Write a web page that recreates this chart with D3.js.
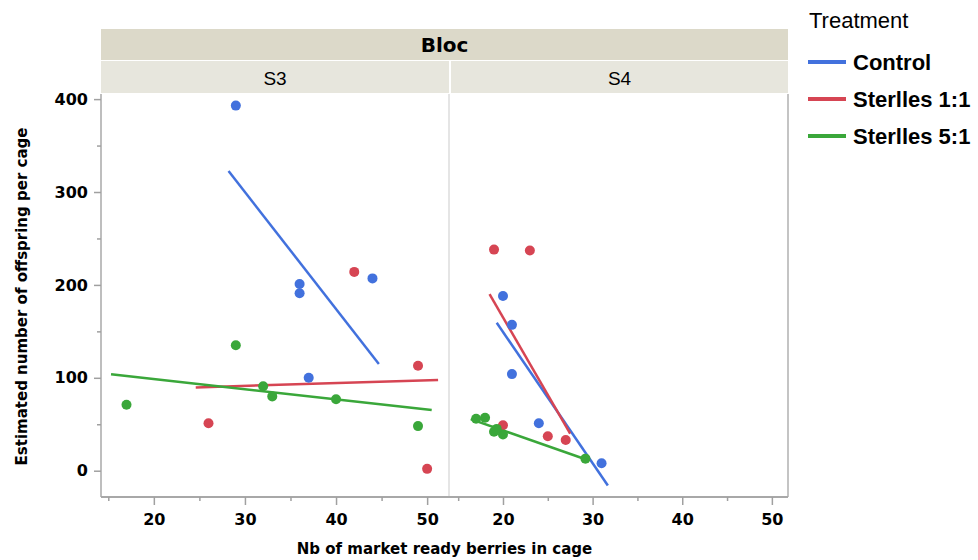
<!DOCTYPE html>
<html>
<head>
<meta charset="utf-8">
<script src="https://cdnjs.cloudflare.com/ajax/libs/d3/7.8.5/d3.min.js"></script>
<style>
  body { margin: 0; background: #fff; }
  svg { display: block; }
  .tick-label { font-family: "DejaVu Sans", sans-serif; font-weight: bold; font-size: 16px; fill: #000; }
  .axis-title { font-family: "DejaVu Sans", sans-serif; font-weight: bold; font-size: 15px; fill: #000; }
</style>
</head>
<body>
<div id="main"></div>
<script>
// Sizes
var svgWidth = 978;
var svgHeight = 560;

// Facets and groups
var panels = ['S3', 'S4'];
var treatments = ['Control', 'Sterlles 1:1', 'Sterlles 5:1'];
var treatmentColors = ['#4271dd', '#d64553', '#3aa73a'];

// Axis ticks
var xTicks = [20, 30, 40, 50];
var xMinorTicks = [15, 25, 35, 45];
var yTicks = [0, 100, 200, 300, 400];
var yMinorTicks = [50, 150, 250, 350];

// Points: bloc, treatment index, berries, offspring
var pointBloc = ['S3','S3','S3','S3','S3', 'S3','S3','S3','S3', 'S3','S3','S3','S3','S3','S3',
                 'S4','S4','S4','S4','S4', 'S4','S4','S4','S4','S4', 'S4','S4','S4','S4','S4','S4'];
var pointTreatment = [0,0,0,0,0, 1,1,1,1, 2,2,2,2,2,2,
                      0,0,0,0,0, 1,1,1,1,1, 2,2,2,2,2,2];
var pointBerries = [29, 36, 36, 37, 44,   42, 49, 26, 50,   17, 29, 32, 33, 40, 49,
                    20, 21, 21, 24, 31,   19, 23, 20, 25, 27,   17, 18, 19, 20, 19.3, 29.2];
var pointOffspring = [393, 201, 191, 100, 207,   214, 113, 51, 2,   71, 135, 91, 80, 77, 48,
                      188, 157, 104, 51, 8,   238, 237, 49, 37, 33,   56, 57, 42, 39, 45, 13];

// Fitted lines: bloc, treatment, start and end
var fitBloc = ['S3', 'S3', 'S3', 'S4', 'S4', 'S4'];
var fitTreatment = [0, 1, 2, 0, 1, 2];
var fitX1 = [28.2, 24.6, 15.3, 19.3, 18.5, 16.4];
var fitY1 = [322.6, 89.7, 103.8, 159.3, 190, 55.6];
var fitX2 = [44.7, 51.2, 50.5, 31.7, 27.5, 29.2];
var fitY2 = [114.9, 97.6, 65.3, -16, 40, 12.3];

// Layout
var panelLeft = [101, 451];
var panelRight = [449, 788];
var plotTop = 94;
var plotBottom = 497;
var stripTop = 29;
var stripMid = 60;

var xDomains = [[14.2, 52.4], [14.2, 51.8]];
var yScale = d3.scaleLinear().domain([-28.3, 405.5]).range([plotBottom, plotTop]);

var xScales = panels.map(function(p, i) {
    return d3.scaleLinear().domain(xDomains[i]).range([panelLeft[i], panelRight[i]]);
});

var svg = d3.select('#main')
    .append('svg')
    .attr('width', svgWidth)
    .attr('height', svgHeight);

// Header strips
svg.append('rect')
    .attr('x', panelLeft[0]).attr('y', stripTop)
    .attr('width', panelRight[1] - panelLeft[0]).attr('height', stripMid - stripTop)
    .attr('fill', '#dcd9c9');
svg.append('text')
    .attr('x', (panelLeft[0] + panelRight[1]) / 2).attr('y', stripMid - 8)
    .attr('text-anchor', 'middle')
    .style('font-family', '"DejaVu Sans", sans-serif')
    .style('font-weight', 'bold')
    .style('font-size', '20px')
    .text('Bloc');

panels.forEach(function(p, i) {
    svg.append('rect')
        .attr('x', panelLeft[i]).attr('y', stripMid + 1)
        .attr('width', panelRight[i] - panelLeft[i]).attr('height', plotTop - stripMid - 2)
        .attr('fill', '#e7e6dd');
    svg.append('text')
        .attr('x', (panelLeft[i] + panelRight[i]) / 2).attr('y', stripMid + 25)
        .attr('text-anchor', 'middle')
        .style('font-family', '"Liberation Sans", sans-serif')
        .style('font-size', '19px')
        .text(p);
});

// Panel frames
panels.forEach(function(p, i) {
    svg.append('line')
        .attr('x1', panelRight[i]).attr('x2', panelRight[i])
        .attr('y1', plotTop).attr('y2', plotBottom)
        .attr('stroke', i == 0 ? '#dcdcdc' : '#b0b0b0').attr('stroke-width', 1.5);
});
svg.append('line')
    .attr('x1', panelLeft[0]).attr('x2', panelLeft[0])
    .attr('y1', plotTop).attr('y2', plotBottom)
    .attr('stroke', '#a8a8a8').attr('stroke-width', 1.5);
svg.append('line')
    .attr('x1', panelLeft[0]).attr('x2', panelRight[1])
    .attr('y1', plotBottom).attr('y2', plotBottom)
    .attr('stroke', '#a8a8a8').attr('stroke-width', 2);

// y axis
var yAxis = d3.axisLeft(yScale).tickValues(yTicks).tickSize(7).tickSizeOuter(0).tickPadding(6);
var yAxisG = svg.append('g')
    .attr('transform', `translate(${panelLeft[0]}, 0)`)
    .call(yAxis);
yAxisG.select('.domain').remove();
yAxisG.selectAll('.tick line').attr('stroke', '#a0a0a0').attr('stroke-width', 1.5);
yAxisG.selectAll('.tick text').attr('class', 'tick-label').attr('font-size', null).attr('font-family', null);

var yMinor = d3.axisLeft(yScale).tickValues(yMinorTicks).tickSize(4).tickFormat('');
var yMinorG = svg.append('g')
    .attr('transform', `translate(${panelLeft[0]}, 0)`)
    .call(yMinor);
yMinorG.select('.domain').remove();
yMinorG.selectAll('.tick line').attr('stroke', '#a0a0a0').attr('stroke-width', 1.5);

// x axes
xScales.forEach(function(xs) {
    var xAxis = d3.axisBottom(xs).tickValues(xTicks).tickSize(8).tickSizeOuter(0).tickPadding(9);
    var g = svg.append('g')
        .attr('transform', `translate(0, ${plotBottom})`)
        .call(xAxis);
    g.select('.domain').remove();
    g.selectAll('.tick line').attr('stroke', '#a0a0a0').attr('stroke-width', 1.5);
    g.selectAll('.tick text').attr('class', 'tick-label').attr('font-size', null).attr('font-family', null);

    var xMinor = d3.axisBottom(xs).tickValues(xMinorTicks).tickSize(4).tickFormat('');
    var gm = svg.append('g')
        .attr('transform', `translate(0, ${plotBottom})`)
        .call(xMinor);
    gm.select('.domain').remove();
    gm.selectAll('.tick line').attr('stroke', '#a0a0a0').attr('stroke-width', 1.5);
});

// Axis titles
svg.append('text')
    .attr('class', 'axis-title')
    .attr('x', (panelLeft[0] + panelRight[1]) / 2)
    .attr('y', 554)
    .attr('text-anchor', 'middle')
    .text('Nb of market ready berries in cage');

svg.append('text')
    .attr('class', 'axis-title')
    .attr('text-anchor', 'middle')
    .attr('transform', `translate(27, ${(plotTop + plotBottom) / 2 + 1}) rotate(-90)`)
    .text('Estimated number of offspring per cage');

// Fitted lines
var fitIdx = d3.range(fitBloc.length);
svg.selectAll('.fit')
    .data(fitIdx)
    .enter()
    .append('line')
    .attr('class', 'fit')
    .attr('x1', function(i) { return xScales[panels.indexOf(fitBloc[i])](fitX1[i]); })
    .attr('y1', function(i) { return yScale(fitY1[i]); })
    .attr('x2', function(i) { return xScales[panels.indexOf(fitBloc[i])](fitX2[i]); })
    .attr('y2', function(i) { return yScale(fitY2[i]); })
    .attr('stroke', function(i) { return treatmentColors[fitTreatment[i]]; })
    .attr('stroke-width', 2.5);

// Points
var ptIdx = d3.range(pointBloc.length);
svg.selectAll('.dot')
    .data(ptIdx)
    .enter()
    .append('circle')
    .attr('class', 'dot')
    .attr('cx', function(i) { return xScales[panels.indexOf(pointBloc[i])](pointBerries[i]); })
    .attr('cy', function(i) { return yScale(pointOffspring[i]); })
    .attr('r', 5)
    .attr('fill', function(i) { return treatmentColors[pointTreatment[i]]; });

// Legend
var legend = svg.append('g').attr('transform', 'translate(808, 0)');
legend.append('text')
    .attr('x', 1).attr('y', 28)
    .style('font-family', '"Liberation Sans", sans-serif')
    .style('font-size', '22px')
    .text('Treatment');

var legendItems = legend.selectAll('.legend-item')
    .data(treatments)
    .enter()
    .append('g')
    .attr('class', 'legend-item')
    .attr('transform', function(d, i) { return `translate(0, ${62 + i * 37})`; });
legendItems.append('line')
    .attr('x1', 0).attr('x2', 38)
    .attr('stroke', function(d, i) { return treatmentColors[i]; })
    .attr('stroke-width', 4);
legendItems.append('text')
    .attr('x', 45).attr('y', 8)
    .style('font-family', '"Liberation Sans", sans-serif')
    .style('font-weight', 'bold')
    .style('font-size', '22px')
    .text(function(d) { return d; });
</script>
</body>
</html>
